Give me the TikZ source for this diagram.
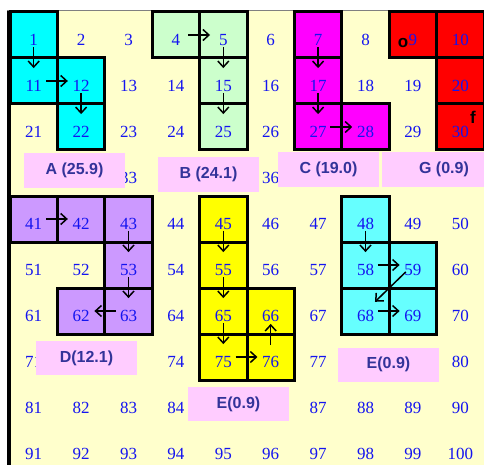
\documentclass[tikz,border=0pt]{standalone}
\usepackage{fontspec}
\setmainfont{Liberation Serif}
\newfontfamily\tagfont{Liberation Sans}
\usepackage{tikz}
\usetikzlibrary{arrows.meta, calc}
\definecolor{gridyellow}{RGB}{255,255,204}
\definecolor{numblue}{RGB}{20,20,240}
\definecolor{tagpink}{RGB}{255,204,255}
\definecolor{tagtext}{RGB}{51,51,153}
\definecolor{blockA}{RGB}{0,255,255}
\definecolor{blockB}{RGB}{204,255,204}
\definecolor{blockC}{RGB}{255,0,255}
\definecolor{blockG}{RGB}{255,0,0}
\definecolor{blockD}{RGB}{204,153,255}
\definecolor{blockE}{RGB}{255,255,0}
\definecolor{blockF}{RGB}{102,255,255}

\begin{document}
\begin{tikzpicture}[
    x=1pt, y=-1pt,
    cellbox/.style={draw=black, line width=3pt},
    num/.style={text=numblue, font=\fontsize{17}{17}\selectfont, inner sep=0pt},
    tag/.style={fill=tagpink, text=tagtext, font=\tagfont\bfseries\fontsize{16}{16}\selectfont, minimum width=101pt, minimum height=34pt, inner sep=0pt},
    letter/.style={text=black, font=\tagfont\bfseries\fontsize{17}{17}\selectfont, inner sep=0pt},
    arrow/.style={-{Straight Barb[length=6pt, width=11pt]}, line width=1.5pt, black}
]
\useasboundingbox (0,0) rectangle (484,465);

% Background
\fill[white] (0,0) rectangle (484,465);
\fill[gridyellow] (9,11) rectangle (484,465);
\draw[gray, line width=1pt] (7,10.5) -- (484,10.5);
\draw[black, line width=4pt] (9,11) -- (9,465);

% Blocks
\foreach \i/\col in {1/blockA, 11/blockA, 12/blockA, 22/blockA,
                     4/blockB, 5/blockB, 15/blockB, 25/blockB,
                     7/blockC, 17/blockC, 27/blockC, 28/blockC,
                     9/blockG, 10/blockG, 20/blockG, 30/blockG,
                     41/blockD, 42/blockD, 43/blockD, 53/blockD, 62/blockD, 63/blockD,
                     45/blockE, 55/blockE, 65/blockE, 66/blockE, 75/blockE, 76/blockE,
                     48/blockF, 58/blockF, 59/blockF, 68/blockF, 69/blockF} {
    \pgfmathsetmacro{\cx}{10+47.4*mod(\i-1,10)}
    \pgfmathsetmacro{\cy}{12+46*floor((\i-1)/10)}
    \draw[cellbox, fill=\col] (\cx,\cy) rectangle ++(47.4,46);
}

% Numbers (those under the tags are left out)
\foreach \i in {1,...,30,33,36,41,42,...,71,74,75,76,77,80,81,...,84,87,88,...,100} {
    \pgfmathsetmacro{\cx}{10+47.4*mod(\i-1,10)}
    \pgfmathsetmacro{\cy}{12+46*floor((\i-1)/10)}
    \node[num] (n\i) at (\cx+23.7,\cy+28) {\i};
}

% Cell centres for the moves
\foreach \i in {1,...,100} {
    \pgfmathsetmacro{\cx}{10+47.4*mod(\i-1,10)}
    \pgfmathsetmacro{\cy}{12+46*floor((\i-1)/10)}
    \coordinate (c\i) at (\cx+23.7,\cy+23);
}

% Letters in block G
\node[letter] (o9) at (403,43) {o};
\node[letter] (f30) at (473,117) {f};

% Moves
\foreach \a/\b in {1/11, 11/12, 12/22, 4/5, 5/15, 15/25, 7/17, 17/27, 27/28,
                   41/42, 43/53, 53/63, 63/62, 45/55, 55/65, 65/75, 75/76, 76/66,
                   48/58, 58/59, 68/69}
    \draw[arrow] ($(c\a)!0.26!(c\b)$) -- ($(c\a)!0.72!(c\b)$);
\draw[arrow] ($(c59)!0.15!(c68)$) -- ($(c59)!0.8!(c68)$);

% Tags
\node[tag] (tagA) at (74.5,170.5) {A (25.9)};
\node[tag] (tagB) at (208.5,174.5) {B (24.1)};
\node[tag] (tagC) at (328.5,169.5) {C (19.0)};
\node[tag, minimum width=102pt] (tagG) at (433,169.5) {\hspace{22pt}G (0.9)};
\node[tag] (tagD) at (86.5,358) {D(12.1)};
\node[tag] (tagE) at (238.5,404) {E(0.9)};
\node[tag] (tagF) at (388.5,364.5) {E(0.9)};

\end{tikzpicture}
\end{document}
